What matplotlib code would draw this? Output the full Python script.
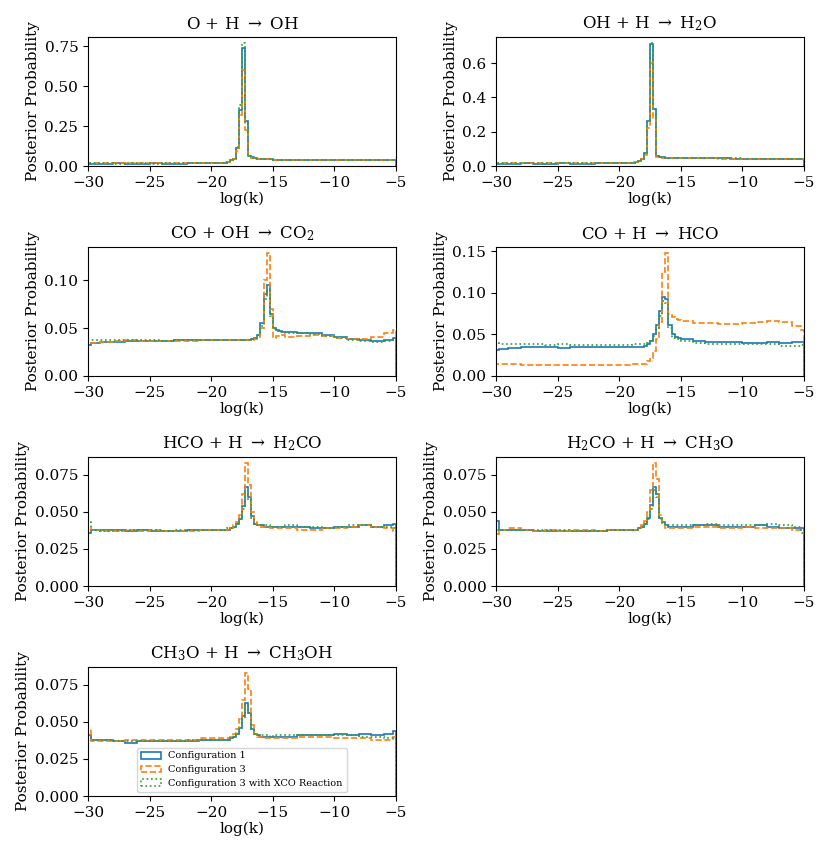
import numpy as np
import matplotlib
matplotlib.use("Agg")
import matplotlib.pyplot as plt

plt.rcParams['font.family'] = ['DejaVu Serif']
plt.rcParams['mathtext.fontset'] = 'dejavuserif'

# ---------------- data ----------------
TITLES = [r'O + H $\rightarrow$ OH',
          r'OH + H $\rightarrow$ H$_2$O',
          r'CO + OH $\rightarrow$ CO$_2$',
          r'CO + H $\rightarrow$ HCO',
          r'HCO + H $\rightarrow$ H$_2$CO',
          r'H$_2$CO + H $\rightarrow$ CH$_3$O',
          r'CH$_3$O + H $\rightarrow$ CH$_3$OH']
LABELS = ['Configuration 1', 'Configuration 3', 'Configuration 3 with XCO Reaction']

# fine-binned (0.25 wide) region around each peak: [start, end] in log(k)
PEAK_RANGES = [(-19, -16), (-19, -16), (-17, -14), (-18, -15), (-19, -15), (-19, -15), (-19, -15)]

OH_cfg1 = [0.015, 0.015, 0.015, 0.016, 0.015, 0.015, 0.016, 0.015, 0.015, 0.016, 0.016, 0.017,
           0.020, 0.025, 0.035, 0.045, 0.110, 0.350, 0.740, 0.280, 0.065, 0.055, 0.048, 0.045,
           0.042, 0.040, 0.040, 0.039, 0.039, 0.039, 0.040, 0.040, 0.039, 0.038, 0.038, 0.038]
OH_cfg3 = [0.021, 0.021, 0.021, 0.020, 0.021, 0.021, 0.020, 0.021, 0.021, 0.020, 0.021, 0.021,
           0.022, 0.026, 0.034, 0.045, 0.095, 0.320, 0.600, 0.225, 0.060, 0.052, 0.046, 0.043,
           0.041, 0.040, 0.039, 0.039, 0.040, 0.040, 0.040, 0.039, 0.039, 0.039, 0.040, 0.046]
OH_cfgX = [0.016, 0.016, 0.016, 0.015, 0.016, 0.016, 0.015, 0.016, 0.016, 0.016, 0.017, 0.018,
           0.020, 0.025, 0.036, 0.048, 0.120, 0.380, 0.770, 0.270, 0.062, 0.053, 0.047, 0.044,
           0.041, 0.040, 0.039, 0.039, 0.039, 0.039, 0.040, 0.040, 0.039, 0.038, 0.037, 0.037]

H2O_cfg1 = [0.014, 0.014, 0.014, 0.015, 0.014, 0.014, 0.015, 0.014, 0.014, 0.015, 0.015, 0.016,
            0.018, 0.022, 0.030, 0.040, 0.075, 0.260, 0.710, 0.330, 0.058, 0.052, 0.050, 0.049,
            0.048, 0.047, 0.046, 0.045, 0.044, 0.043, 0.043, 0.042, 0.042, 0.041, 0.041, 0.041]
H2O_cfg3 = [0.020, 0.020, 0.020, 0.019, 0.020, 0.020, 0.020, 0.019, 0.020, 0.020, 0.020, 0.020,
            0.021, 0.024, 0.030, 0.038, 0.065, 0.220, 0.600, 0.280, 0.055, 0.050, 0.048, 0.047,
            0.046, 0.045, 0.044, 0.044, 0.043, 0.042, 0.042, 0.041, 0.040, 0.040, 0.040, 0.040]
H2O_cfgX = [0.015, 0.015, 0.015, 0.015, 0.015, 0.015, 0.015, 0.015, 0.015, 0.015, 0.016, 0.016,
            0.018, 0.022, 0.031, 0.042, 0.078, 0.265, 0.717, 0.325, 0.057, 0.052, 0.050, 0.049,
            0.048, 0.047, 0.046, 0.045, 0.044, 0.044, 0.043, 0.042, 0.042, 0.041, 0.041, 0.041]

CO2_cfg1 = [0.032, 0.034, 0.035, 0.035, 0.036, 0.036, 0.036, 0.036, 0.037, 0.037, 0.037, 0.037, 0.037, 0.038,
            0.038, 0.039, 0.040, 0.043, 0.055, 0.085, 0.095, 0.065, 0.050, 0.048, 0.047, 0.046,
            0.046, 0.045, 0.045, 0.043, 0.041, 0.039, 0.037, 0.036, 0.037, 0.040]
CO2_cfg3 = [0.033, 0.034, 0.035, 0.036, 0.037, 0.036, 0.036, 0.036, 0.036, 0.036, 0.037, 0.037, 0.037, 0.037,
            0.037, 0.038, 0.039, 0.041, 0.050, 0.100, 0.128, 0.070, 0.040, 0.042, 0.042, 0.043,
            0.041, 0.042, 0.043, 0.042, 0.040, 0.039, 0.039, 0.041, 0.045, 0.048]
CO2_cfgX = [0.038, 0.037, 0.037, 0.037, 0.037, 0.037, 0.037, 0.036, 0.037, 0.037, 0.037, 0.037, 0.037, 0.038,
            0.038, 0.039, 0.040, 0.043, 0.052, 0.080, 0.090, 0.062, 0.049, 0.047, 0.046, 0.046,
            0.045, 0.045, 0.044, 0.042, 0.040, 0.038, 0.036, 0.035, 0.036, 0.037]

HCO_cfg1 = [0.031, 0.033, 0.034, 0.035, 0.035, 0.035, 0.034, 0.035, 0.035, 0.035, 0.035, 0.035, 0.035,
            0.036, 0.038, 0.042, 0.050, 0.062, 0.078, 0.095, 0.093, 0.062, 0.050, 0.047, 0.046,
            0.044, 0.042, 0.041, 0.041, 0.041, 0.040, 0.040, 0.041, 0.040, 0.041, 0.041]
HCO_cfg3 = [0.014, 0.014, 0.014, 0.013, 0.013, 0.013, 0.013, 0.013, 0.013, 0.013, 0.013, 0.013, 0.014,
            0.015, 0.018, 0.022, 0.030, 0.045, 0.065, 0.125, 0.148, 0.075, 0.071, 0.069, 0.068,
            0.066, 0.064, 0.064, 0.063, 0.063, 0.064, 0.065, 0.066, 0.065, 0.060, 0.056]
HCO_cfgX = [0.040, 0.039, 0.038, 0.038, 0.038, 0.037, 0.038, 0.037, 0.037, 0.037, 0.037, 0.037, 0.038,
            0.038, 0.040, 0.043, 0.048, 0.058, 0.072, 0.090, 0.088, 0.058, 0.046, 0.045, 0.044,
            0.042, 0.040, 0.039, 0.039, 0.039, 0.038, 0.038, 0.038, 0.036, 0.036, 0.037]

H2CO_cfg1 = [0.036, 0.038, 0.038, 0.038, 0.037, 0.038, 0.037, 0.037, 0.037, 0.038, 0.038, 0.038,
             0.038, 0.038, 0.039, 0.040, 0.042, 0.045, 0.054, 0.067, 0.060, 0.047, 0.042, 0.041, 0.041, 0.040, 0.040, 0.040,
             0.040, 0.040, 0.040, 0.039, 0.039, 0.040, 0.040, 0.041, 0.040, 0.041, 0.042]
H2CO_cfg3 = [0.040, 0.038, 0.037, 0.037, 0.038, 0.037, 0.038, 0.037, 0.037, 0.037, 0.038, 0.038,
             0.038, 0.038, 0.039, 0.041, 0.043, 0.048, 0.062, 0.083, 0.068, 0.050, 0.043, 0.041, 0.040, 0.040, 0.040, 0.039,
             0.039, 0.039, 0.038, 0.038, 0.039, 0.039, 0.040, 0.041, 0.040, 0.039, 0.037]
H2CO_cfgX = [0.043, 0.038, 0.037, 0.037, 0.038, 0.038, 0.038, 0.037, 0.038, 0.038, 0.038, 0.038,
             0.038, 0.039, 0.039, 0.040, 0.042, 0.045, 0.052, 0.063, 0.058, 0.046, 0.042, 0.041, 0.041, 0.041, 0.041, 0.040,
             0.040, 0.041, 0.040, 0.040, 0.039, 0.040, 0.041, 0.041, 0.040, 0.040, 0.039]

CH3O_cfg1 = [0.044, 0.038, 0.038, 0.038, 0.037, 0.037, 0.037, 0.037, 0.037, 0.037, 0.038, 0.038,
             0.038, 0.038, 0.039, 0.040, 0.042, 0.046, 0.055, 0.067, 0.062, 0.046, 0.043, 0.041, 0.040, 0.040, 0.040, 0.040,
             0.040, 0.041, 0.041, 0.040, 0.040, 0.040, 0.041, 0.040, 0.039, 0.039, 0.039]
CH3O_cfg3 = [0.035, 0.038, 0.039, 0.038, 0.037, 0.038, 0.037, 0.038, 0.038, 0.037, 0.038, 0.038,
             0.038, 0.038, 0.039, 0.041, 0.044, 0.050, 0.065, 0.083, 0.072, 0.048, 0.042, 0.039, 0.039, 0.039, 0.039, 0.039,
             0.039, 0.040, 0.040, 0.039, 0.039, 0.040, 0.039, 0.039, 0.039, 0.038, 0.037]
CH3O_cfgX = [0.038, 0.038, 0.038, 0.038, 0.038, 0.038, 0.038, 0.037, 0.037, 0.037, 0.038, 0.038,
             0.038, 0.038, 0.039, 0.040, 0.042, 0.045, 0.052, 0.065, 0.060, 0.045, 0.042, 0.041, 0.041, 0.041, 0.041, 0.041,
             0.041, 0.041, 0.042, 0.041, 0.041, 0.041, 0.041, 0.042, 0.041, 0.040, 0.036]

CH3OH_cfg1 = [0.041, 0.038, 0.038, 0.037, 0.036, 0.037, 0.037, 0.037, 0.037, 0.037, 0.038, 0.038,
              0.038, 0.038, 0.039, 0.040, 0.042, 0.046, 0.054, 0.063, 0.056, 0.045, 0.042, 0.041, 0.040, 0.040, 0.040, 0.040,
              0.040, 0.040, 0.041, 0.041, 0.041, 0.042, 0.041, 0.042, 0.041, 0.042, 0.044]
CH3OH_cfg3 = [0.045, 0.037, 0.037, 0.037, 0.038, 0.038, 0.038, 0.038, 0.038, 0.038, 0.039, 0.039,
              0.039, 0.039, 0.040, 0.042, 0.045, 0.052, 0.065, 0.083, 0.072, 0.048, 0.042, 0.040, 0.040, 0.039, 0.039, 0.039,
              0.039, 0.039, 0.040, 0.040, 0.040, 0.039, 0.039, 0.039, 0.038, 0.038, 0.040]
CH3OH_cfgX = [0.040, 0.038, 0.038, 0.037, 0.037, 0.037, 0.037, 0.037, 0.037, 0.038, 0.038, 0.038,
              0.038, 0.038, 0.039, 0.040, 0.042, 0.045, 0.052, 0.062, 0.056, 0.045, 0.042, 0.041, 0.041, 0.041, 0.041, 0.040,
              0.041, 0.041, 0.041, 0.041, 0.041, 0.041, 0.041, 0.040, 0.040, 0.039, 0.039]

SERIES = [(OH_cfg1, OH_cfg3, OH_cfgX),
          (H2O_cfg1, H2O_cfg3, H2O_cfgX),
          (CO2_cfg1, CO2_cfg3, CO2_cfgX),
          (HCO_cfg1, HCO_cfg3, HCO_cfgX),
          (H2CO_cfg1, H2CO_cfg3, H2CO_cfgX),
          (CH3O_cfg1, CH3O_cfg3, CH3O_cfgX),
          (CH3OH_cfg1, CH3OH_cfg3, CH3OH_cfgX)]

# ---------------- styling ----------------
COLORS = ['#1f77b4', '#ff7f0e', '#2ca02c']
STYLES = ['-', '--', ':']


def make_edges(a, b):
    return np.concatenate([[-30.0, -29.75], np.arange(-29.0, a, 1.0),
                           np.arange(a, b, 0.25), np.arange(b, -5.0, 1.0), [-5.25, -5.0]])


fig = plt.figure(figsize=(8.31, 8.56), dpi=100)
W, H = 831.0, 856.0
col_x = [88, 496]
row_top = [37, 247, 457, 667]
ax_w, ax_h = 308, 129

for i, (title, (a, b), ser) in enumerate(zip(TITLES, PEAK_RANGES, SERIES)):
    r, c = divmod(i, 2)
    ax = fig.add_axes([col_x[c] / W, 1 - (row_top[r] + ax_h) / H, ax_w / W, ax_h / H])
    edges = make_edges(a, b)
    centers = 0.5 * (edges[:-1] + edges[1:])
    ymax = 0
    for vals, col, ls, lab in zip(ser, COLORS, STYLES, LABELS):
        vals = np.asarray(vals)
        ax.hist(centers, bins=edges, weights=vals, histtype='step', color=col,
                linestyle=ls, linewidth=1.2, label=lab)
        ymax = max(ymax, vals.max())
    ax.set_xlim(-30, -5)
    ax.set_ylim(0, ymax * 1.05)
    ax.set_title(title, fontsize=12)
    ax.set_xlabel('log(k)', fontsize=11, labelpad=1)
    ax.set_ylabel('Posterior Probability', fontsize=11, labelpad=3)
    ax.tick_params(labelsize=11)
    if i == 6:
        ax.legend(loc='lower center', fontsize=7, borderaxespad=0.4)

fig.savefig('out.png', dpi=100)
